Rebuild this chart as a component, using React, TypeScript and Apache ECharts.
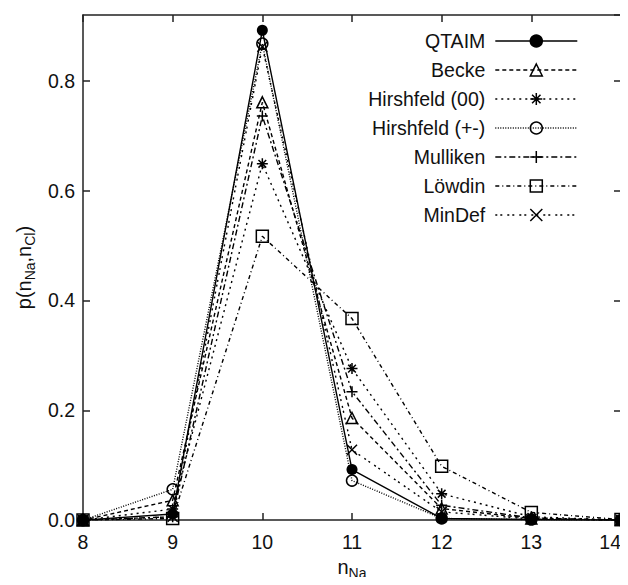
import React, { useEffect, useRef } from "react";
import * as echarts from "echarts";

// n_Na values (x axis)
const nNa = [8, 9, 10, 11, 12, 13, 14];
const xTicks = [8, 9, 10, 11, 12, 13, 14];
const yTicks = [0, 0.2, 0.4, 0.6, 0.8];

// p(n_Na, n_Cl) for each partitioning method
const qtaim = [0.0, 0.011, 0.892, 0.092, 0.003, 0.001, 0.0];
const becke = [0.0, 0.036, 0.761, 0.186, 0.021, 0.003, 0.0];
const hirsh00 = [0.0, 0.02, 0.649, 0.276, 0.048, 0.006, 0.0];
const hirshPM = [0.0, 0.056, 0.868, 0.072, 0.003, 0.001, 0.0];
const mulliken = [0.0, 0.006, 0.736, 0.234, 0.027, 0.004, 0.0];
const lowdin = [0.0, 0.003, 0.517, 0.367, 0.098, 0.014, 0.001];
const minDef = [0.0, 0.006, 0.862, 0.128, 0.015, 0.002, 0.0];

const names = [
  "QTAIM",
  "Becke",
  "Hirshfeld (00)",
  "Hirshfeld (+-)",
  "Mulliken",
  "Löwdin",
  "MinDef",
];

const FONT = "'Liberation Sans', Arial, Helvetica, sans-serif";
const INK = "#111";

const STAR = "path://M0,5 L10,5 M5,0 L5,10 M1.5,1.5 L8.5,8.5 M1.5,8.5 L8.5,1.5";
const PLUS = "path://M0,5 L10,5 M5,0 L5,10";
const CROSS = "path://M0,0 L10,10 M0,10 L10,0";

export default function App() {
  const ref = useRef<HTMLDivElement>(null);

  useEffect(() => {
    if (!ref.current) return;
    const chart = echarts.init(ref.current, null, { renderer: "svg" });

    const mk = (
      name: string,
      vals: number[],
      symbol: string,
      size: number,
      dash: any,
      z: number,
      filled = false
    ) => ({
      name,
      type: "line",
      data: nNa.map((x, i) => [x, vals[i]]),
      symbol,
      symbolSize: size,
      showSymbol: true,
      z,
      lineStyle: { color: "#000", width: 1.4, type: dash },
      itemStyle: {
        color: filled ? "#000" : "rgba(0,0,0,0)",
        borderColor: "#000",
        borderWidth: filled ? 0 : 1.5,
      },
      emphasis: { disabled: true },
    });

    const axisLineStyle = { color: "#222", width: 1.5 };

    const option: any = {
      animation: false,
      backgroundColor: "#fff",
      textStyle: { fontFamily: FONT, color: INK },
      grid: { left: 83, right: 7, top: 15, bottom: 60, containLabel: false },
      legend: {
        orient: "vertical",
        align: "right",
        right: 45,
        top: 26,
        itemWidth: 82,
        itemHeight: 15,
        itemGap: 9,
        data: names,
        selectedMode: false,
        textStyle: {
          fontFamily: FONT,
          fontSize: 19.5,
          color: INK,
          padding: [0, 5, 0, 0],
        },
        lineStyle: { width: 1.4 },
        itemStyle: { borderWidth: 1.5 },
      },
      xAxis: [
        {
          type: "value",
          min: xTicks[0],
          max: xTicks[xTicks.length - 1],
          interval: 1,
          position: "bottom",
          name: "{m|n}{s|Na}",
          nameLocation: "middle",
          nameGap: 31,
          nameTextStyle: {
            rich: {
              m: { fontFamily: FONT, fontSize: 20, color: INK },
              s: {
                fontFamily: FONT,
                fontSize: 14,
                color: INK,
                padding: [12, 0, 0, 0],
              },
            },
          },
          axisLine: { show: true, onZero: false, lineStyle: axisLineStyle },
          axisTick: { show: true, inside: true, length: 7, lineStyle: axisLineStyle },
          axisLabel: {
            fontFamily: FONT,
            fontSize: 19.5,
            color: INK,
            margin: 12,
            alignMaxLabel: "right",
          },
          splitLine: { show: false },
        },
        {
          type: "value",
          min: xTicks[0],
          max: xTicks[xTicks.length - 1],
          interval: 1,
          position: "top",
          axisLine: { show: true, onZero: false, lineStyle: axisLineStyle },
          axisTick: { show: true, inside: true, length: 7, lineStyle: axisLineStyle },
          axisLabel: { show: false },
          splitLine: { show: false },
        },
      ],
      yAxis: [
        {
          type: "value",
          min: yTicks[0],
          max: 0.92,
          interval: 0.2,
          position: "left",
          name: "{m|p(n}{s|Na}{m|,n}{s|Cl}{m|)}",
          nameLocation: "middle",
          nameGap: 42,
          nameTextStyle: {
            rich: {
              m: { fontFamily: FONT, fontSize: 20, color: INK },
              s: {
                fontFamily: FONT,
                fontSize: 14,
                color: INK,
                padding: [12, 0, 0, 0],
              },
            },
          },
          axisLine: { show: true, onZero: false, lineStyle: axisLineStyle },
          axisTick: { show: true, inside: true, length: 7, lineStyle: axisLineStyle },
          axisLabel: {
            fontFamily: FONT,
            fontSize: 19.5,
            color: INK,
            margin: 8,
            showMaxLabel: false,
            formatter: (v: number) =>
              yTicks.some((t) => Math.abs(t - v) < 1e-6) ? v.toFixed(1) : "",
          },
          splitLine: { show: false },
        },
        {
          type: "value",
          min: yTicks[0],
          max: 0.92,
          interval: 0.2,
          position: "right",
          axisLine: { show: true, onZero: false, lineStyle: axisLineStyle },
          axisTick: { show: true, inside: true, length: 7, lineStyle: axisLineStyle },
          axisLabel: { show: false },
          splitLine: { show: false },
        },
      ],
      series: [
        mk(names[0], qtaim, "circle", 11, "solid", 9, true),
        mk(names[1], becke, "triangle", 11, [4, 3], 8),
        mk(names[2], hirsh00, STAR, 11, [2, 4], 7),
        mk(names[3], hirshPM, "circle", 11, [1, 1.5], 6),
        mk(names[4], mulliken, PLUS, 11, [6, 3, 2, 3], 5),
        mk(names[5], lowdin, "rect", 12, [4, 3, 1, 3], 4),
        mk(names[6], minDef, CROSS, 10, [2, 3, 2, 5], 3),
      ],
    };

    chart.setOption(option);
    return () => chart.dispose();
  }, []);

  return <div ref={ref} style={{ width: 628, height: 585, margin: -8 }} />;
}
